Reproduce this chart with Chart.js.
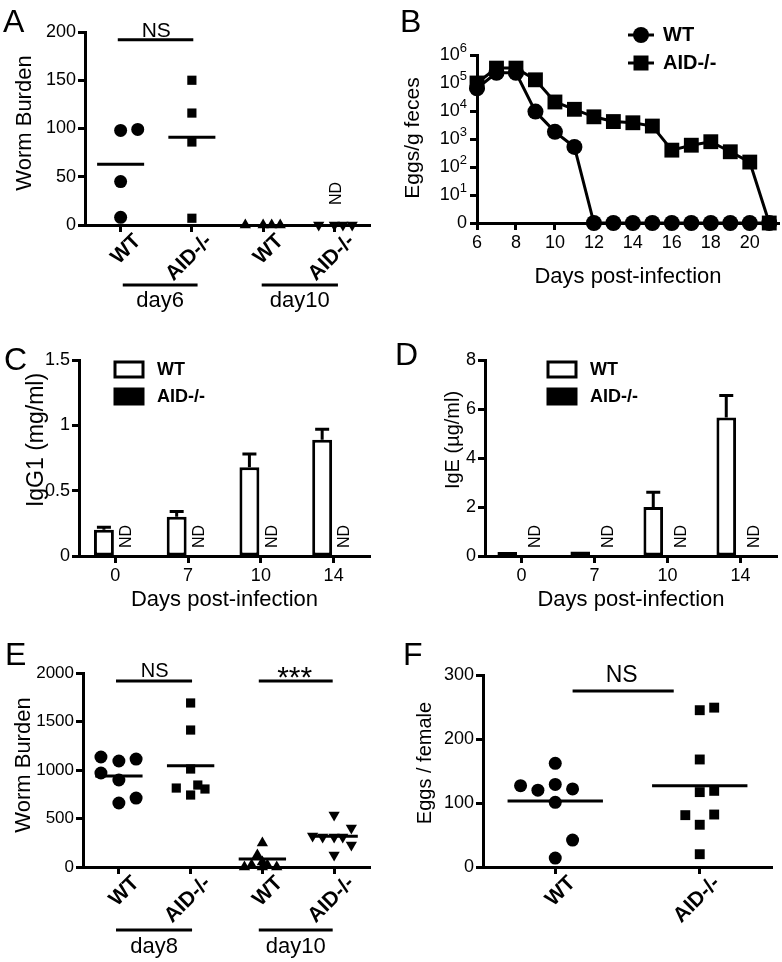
<!DOCTYPE html>
<html>
<head>
<meta charset="utf-8">
<title>Worm burden, egg output and antibody titres: WT vs AID-/-</title>
<script src="https://cdn.jsdelivr.net/npm/chart.js@4.4.1/dist/chart.umd.min.js"></script>
<style>
  html, body { margin: 0; padding: 0; background: #fff; }
  body { position: relative; width: 782px; height: 962px; overflow: hidden; }
  canvas { position: absolute; }
</style>
</head>
<body>
<canvas id="panelA"></canvas>
<canvas id="panelB"></canvas>
<canvas id="panelC"></canvas>
<canvas id="panelD"></canvas>
<canvas id="panelE"></canvas>
<canvas id="panelF"></canvas>
<script>
// ---- values ----
// dot plots: x is the group index, the small fractions are the jitter of each dot

// A: worm burden at day 6 / day 10
const groupsA = ["WT", "AID-/-", "WT", "AID-/-"];
const daysA = ["day6", "day10"];
const wtDay6A = [98, 99, 45, 8];
const wtDay6AX = [0, 0.24, 0, 0];
const aidDay6A = [150, 116, 86, 7];
const aidDay6AX = [1, 1, 1, 1];
const wtDay10A = [0, 0, 0, 0];
const wtDay10AX = [1.75, 2, 2.12, 2.24];
const aidDay10A = [0, 0, 0, 0];
const aidDay10AX = [2.78, 3, 3.12, 3.25];
const meansA = [63, 91];

// B: eggs / g feces (0 = none found)
const daysB = [6, 7, 8, 9, 10, 11, 12, 13, 14, 15, 16, 17, 18, 19, 20, 21];
const wtEggsB = [65000, 230000, 230000, 9500, 1800, 520, 0, 0, 0, 0, 0, 0, 0, 0, 0, 0];
const aidEggsB = [100000, 340000, 340000, 130000, 21000, 11500, 6200, 4200, 3800, 2900, 400, 600, 800, 350, 150, 0];
const dayTicksB = [6, 8, 10, 12, 14, 16, 18, 20];
const powersB = [0, 1, 2, 3, 4, 5, 6]; // y ticks: 0, then 10^1 .. 10^6

// C: IgG1 (mg/ml), D: IgE (ug/ml); AID-/- not detected (null)
const daysCD = ["0", "7", "10", "14"];
const wtIgG1 = [0.2, 0.3, 0.68, 0.89];
const wtIgG1Sem = [0.02, 0.04, 0.1, 0.08];
const aidIgG1 = [null, null, null, null];
const wtIgE = [0.05, 0.18, 2.0, 5.65];
const wtIgESem = [0, 0, 0.6, 0.9];
const aidIgE = [null, null, null, null];

// E: worm burden at day 8 / day 10
const groupsE = ["WT", "AID-/-", "WT", "AID-/-"];
const daysE = ["day8", "day10"];
const wtDay8E = [1134, 1093, 1113, 969, 897, 660, 711];
const wtDay8EX = [-0.25, 0, 0.24, -0.25, 0, 0, 0.24];
const aidDay8E = [1691, 1412, 1010, 814, 845, 804, 742];
const aidDay8EX = [1, 1, 1, 0.8, 1.1, 1.2, 1];
const wtDay10E = [247, 0, 20, 124, 52, 20, 0, 0];
const wtDay10EX = [2, 1.75, 1.85, 1.93, 2, 2.07, 2.2, 2];
const aidDay10E = [536, 402, 320, 309, 309, 309, 227, 124];
const aidDay10EX = [3, 3.24, 2.7, 2.84, 3, 3.12, 3.24, 3];
const meansE = [938, 1045, 82, 317];

// F: eggs per female
const groupsF = ["WT", "AID-/-"];
const wtEggsF = [162, 127, 120, 129, 122, 101, 42, 14];
const wtEggsFX = [0, -0.24, -0.12, 0, 0.12, 0, 0.12, 0];
const aidEggsF = [245, 249, 168, 117, 119, 81, 82, 66, 20];
const aidEggsFX = [1, 1.1, 1, 1, 1.1, 0.9, 1.1, 1, 1];
const meansF = [103, 127];

// ---- drawing ----
const FONT = '"Liberation Sans", Arial, Helvetica, sans-serif';
Chart.defaults.font.family = FONT;
Chart.defaults.color = "#000";
const MEAN_HALF = 0.33;

// canvas box, plot area and y title centre of each panel, in page pixels
const layoutA = { box: { x: 0, y: 0, w: 391, h: 320 }, area: { l: 85, t: 32, r: 370, b: 225 }, yTitle: { x: 25, y: 123 } };
const layoutB = { box: { x: 391, y: 0, w: 391, h: 320 }, area: { l: 477, t: 55, r: 779, b: 223 }, yTitle: { x: 413, y: 138 } };
const layoutC = { box: { x: 0, y: 320, w: 391, h: 305 }, area: { l: 79, t: 360, r: 370, b: 556 }, yTitle: { x: 37, y: 440 } };
const layoutD = { box: { x: 391, y: 320, w: 391, h: 305 }, area: { l: 485, t: 360, r: 777, b: 556 }, yTitle: { x: 453, y: 440 } };
const layoutE = { box: { x: 0, y: 625, w: 391, h: 337 }, area: { l: 83, t: 673, r: 370, b: 867 }, yTitle: { x: 24, y: 765 } };
const layoutF = { box: { x: 391, y: 625, w: 391, h: 337 }, area: { l: 483, t: 675, r: 772, b: 867 }, yTitle: { x: 425, y: 763 } };

function setup(id, lay) {
  const c = document.getElementById(id);
  c.width = lay.box.w;
  c.height = lay.box.h;
  c.style.left = lay.box.x + "px";
  c.style.top = lay.box.y + "px";
  return c;
}

function baseOptions(lay) {
  const { box, area } = lay;
  return {
    responsive: false,
    animation: false,
    devicePixelRatio: 1,
    events: [],
    layout: {
      autoPadding: false,
      padding: { left: 0, top: area.t - box.y, right: box.x + box.w - area.r, bottom: 0 },
    },
    plugins: { legend: { display: false }, tooltip: { enabled: false } },
  };
}

const axisGrid = { drawOnChartArea: false, tickLength: 7, tickWidth: 3, tickColor: "#000" };
const axisBorder = { color: "#000", width: 3 };

// keep the plot area exactly where the layout says
function fixWidth(w) {
  return (s) => { s.width = w; s.paddingTop = 0; s.paddingBottom = 0; };
}
function fixHeight(h) {
  return (s) => { s.height = h; s.paddingLeft = 0; s.paddingRight = 0; };
}

function yAxis(lay, o) {
  return {
    min: o.min,
    max: o.max,
    ticks: { stepSize: o.step, font: { size: o.tickSize || 18 }, color: "#000", padding: 2,
             display: o.hideLabels ? false : true, callback: (v) => String(v) },
    grid: axisGrid,
    border: axisBorder,
    afterFit: fixWidth(lay.area.l - lay.box.x),
  };
}

function xTitle(lay, text, size, centerY) {
  const lh = size * 1.2;
  return { display: true, text, color: "#000", font: { size },
           padding: { top: 0, bottom: lay.box.y + lay.box.h - centerY - lh / 2 } };
}

function dotAxis(lay, labels) {
  return {
    type: "linear",
    min: -0.5,
    max: labels.length - 0.5,
    afterBuildTicks: (s) => { s.ticks = labels.map((_, i) => ({ value: i })); },
    ticks: { callback: (v) => labels[v], autoSkip: false, minRotation: 45, maxRotation: 45,
             labelOffset: 17, padding: -3, font: { size: 21, weight: "bold" }, color: "#000" },
    grid: axisGrid,
    border: axisBorder,
    afterFit: fixHeight(lay.box.y + lay.box.h - lay.area.b),
  };
}

function dots(ys, xs, style, radius, rotation) {
  return {
    data: ys.map((v, i) => ({ x: xs[i], y: v })),
    showLine: false,
    pointStyle: style,
    pointRadius: radius,
    pointRotation: rotation || 0,
    pointBackgroundColor: "#000",
    pointBorderWidth: 0,
    clip: false,
  };
}

function meanLine(m, c) {
  return {
    data: [{ x: c - MEAN_HALF, y: m }, { x: c + MEAN_HALF, y: m }],
    showLine: true,
    borderColor: "#000",
    borderWidth: 3,
    pointRadius: 0,
    clip: false,
  };
}

function put(ctx, str, x, y, size, opts) {
  opts = opts || {};
  ctx.save();
  ctx.font = (opts.bold ? "bold " : "") + size + "px " + FONT;
  ctx.fillStyle = "#000";
  ctx.textAlign = opts.align || "center";
  ctx.textBaseline = opts.base || "middle";
  ctx.translate(x, y);
  if (opts.rot) ctx.rotate(opts.rot);
  ctx.fillText(str, 0, 0);
  ctx.restore();
}

function yTitle(ctx, lay, text, size) {
  put(ctx, text, lay.yTitle.x - lay.box.x, lay.yTitle.y - lay.box.y, size, { rot: -Math.PI / 2 });
}

function rule(ctx, x1, x2, y) {
  ctx.save();
  ctx.strokeStyle = "#000";
  ctx.lineWidth = 3;
  ctx.beginPath();
  ctx.moveTo(x1, y);
  ctx.lineTo(x2, y);
  ctx.stroke();
  ctx.restore();
}

function groupBrackets(ctx, x, names, spans, ruleY, textY) {
  names.forEach((name, i) => {
    const a = x.getPixelForValue(spans[i][0]);
    const b = x.getPixelForValue(spans[i][1]);
    rule(ctx, a, b, ruleY);
    put(ctx, name, (a + b) / 2, textY, 22);
  });
}

// A
new Chart(setup("panelA", layoutA), {
  type: "scatter",
  data: {
    datasets: [
      dots(wtDay6A, wtDay6AX, "circle", 6.5),
      dots(aidDay6A, aidDay6AX, "rect", 6.5),
      dots(wtDay10A, wtDay10AX, "triangle", 6.5),
      dots(aidDay10A, aidDay10AX, "triangle", 6.5, 180),
      meanLine(meansA[0], 0),
      meanLine(meansA[1], 1),
    ],
  },
  options: Object.assign(baseOptions(layoutA), {
    scales: {
      x: dotAxis(layoutA, groupsA),
      y: yAxis(layoutA, { min: 0, max: 200, step: 50 }),
    },
  }),
  plugins: [{
    id: "notesA",
    afterDraw(chart) {
      const { ctx, scales: { x, y }, chartArea: ca } = chart;
      put(ctx, "A", 3, 32, 32, { align: "left", base: "alphabetic" });
      yTitle(ctx, layoutA, "Worm Burden", 22);
      const ns = y.getPixelForValue(192);
      rule(ctx, x.getPixelForValue(-0.04), x.getPixelForValue(1.02), ns);
      put(ctx, "NS", x.getPixelForValue(0.5), ns - 3, 21, { base: "alphabetic" });
      put(ctx, "ND", x.getPixelForValue(3.03), ca.bottom - 20, 16, { align: "left", rot: -Math.PI / 2 });
      groupBrackets(ctx, x, daysA, [[0.03, 1.08], [1.98, 3.05]], ca.bottom + 60, ca.bottom + 76);
    },
  }],
});

// B: y is log10 of the count, 0 drawn at the 10^0 position
const toLog = (v) => (v > 0 ? Math.log10(v) : 0);
new Chart(setup("panelB", layoutB), {
  type: "line",
  data: {
    datasets: [
      { label: "WT", data: daysB.map((d, i) => ({ x: d, y: toLog(wtEggsB[i]) })),
        borderColor: "#000", borderWidth: 3, pointStyle: "circle", pointRadius: 8,
        pointBackgroundColor: "#000", pointBorderWidth: 0, order: 2, clip: false },
      { label: "AID-/-", data: daysB.map((d, i) => ({ x: d, y: toLog(aidEggsB[i]) })),
        borderColor: "#000", borderWidth: 3, pointStyle: "rect", pointRadius: 10.5,
        pointBackgroundColor: "#000", pointBorderWidth: 0, order: 1, clip: false },
    ],
  },
  options: Object.assign(baseOptions(layoutB), {
    scales: {
      x: {
        type: "linear", min: 6, max: 21.5,
        afterBuildTicks: (s) => { s.ticks = dayTicksB.map((v) => ({ value: v })); },
        ticks: { font: { size: 18 }, color: "#000", padding: 2, maxRotation: 0, autoSkip: false },
        grid: axisGrid, border: axisBorder,
        title: xTitle(layoutB, "Days post-infection", 22, 277),
        afterFit: fixHeight(layoutB.box.y + layoutB.box.h - layoutB.area.b),
      },
      y: Object.assign(yAxis(layoutB, { min: 0, max: 6, step: 1, hideLabels: true }), {
        afterBuildTicks: (s) => { s.ticks = powersB.map((p) => ({ value: p })); },
      }),
    },
  }),
  plugins: [{
    id: "notesB",
    afterDraw(chart) {
      const { ctx, scales: { y }, chartArea: ca } = chart;
      put(ctx, "B", 9, 32, 32, { align: "left", base: "alphabetic" });
      yTitle(ctx, layoutB, "Eggs/g feces", 21);
      // y tick labels: 0, 10^1 ... 10^6 with a raised exponent
      const right = ca.left - 10;
      powersB.forEach((p) => {
        const py = y.getPixelForValue(p);
        if (p === 0) { put(ctx, "0", right, py, 18, { align: "right" }); return; }
        put(ctx, String(p), right, py - 7, 13, { align: "right" });
        ctx.font = "13px " + FONT;
        const ew = ctx.measureText(String(p)).width;
        put(ctx, "10", right - ew, py, 18, { align: "right" });
      });
      chart.data.datasets.forEach((ds, i) => {
        const ly = 35 + i * 28;
        rule(ctx, 237, 263, ly);
        ctx.save();
        ctx.fillStyle = "#000";
        ctx.beginPath();
        if (ds.pointStyle === "circle") ctx.arc(250, ly, 8, 0, Math.PI * 2);
        else ctx.rect(242.5, ly - 7.5, 15, 15);
        ctx.fill();
        ctx.restore();
        put(ctx, ds.label, 272, ly, 20, { align: "left", bold: true });
      });
    },
  }],
});

// C and D share one builder
function titreChart(id, lay, letter, wt, sem, aid, yo, catPct, barPct, legendDx, titleY) {
  return new Chart(setup(id, lay), {
    type: "bar",
    data: {
      labels: daysCD,
      datasets: [
        { label: "WT", data: wt, backgroundColor: "#fff", borderColor: "#000", borderWidth: 3,
          borderSkipped: false, minBarLength: 4, categoryPercentage: catPct, barPercentage: barPct, clip: false },
        { label: "AID-/-", data: aid, backgroundColor: "#000", borderColor: "#000", borderWidth: 3,
          borderSkipped: false, categoryPercentage: catPct, barPercentage: barPct, clip: false },
      ],
    },
    options: Object.assign(baseOptions(lay), {
      scales: {
        x: {
          ticks: { font: { size: 18 }, color: "#000", padding: 2 },
          grid: Object.assign({ offset: false }, axisGrid), border: axisBorder,
          title: xTitle(lay, "Days post-infection", 22, titleY),
          afterFit: fixHeight(lay.box.y + lay.box.h - lay.area.b),
        },
        y: yAxis(lay, yo),
      },
    }),
    plugins: [{
      id: "notes" + letter,
      afterDatasetsDraw(chart) {
        const { ctx, scales: { y } } = chart;
        const bars = chart.getDatasetMeta(0).data;
        ctx.save();
        ctx.strokeStyle = "#000";
        ctx.lineWidth = 3;
        bars.forEach((bar, i) => {
          if (!sem[i]) return;
          const top = y.getPixelForValue(wt[i] + sem[i]);
          ctx.beginPath();
          ctx.moveTo(bar.x, bar.y);
          ctx.lineTo(bar.x, top);
          ctx.moveTo(bar.x - 7, top);
          ctx.lineTo(bar.x + 7, top);
          ctx.stroke();
        });
        ctx.restore();
      },
      afterDraw(chart) {
        const { ctx, chartArea: ca } = chart;
        put(ctx, letter, 4, letter === "C" ? 50 : 45, 32, { align: "left", base: "alphabetic" });
        yTitle(ctx, lay, yo.title, yo.titleSize);
        chart.getDatasetMeta(1).data.forEach((el) => {
          put(ctx, "ND", el.x, ca.bottom - 8, 16, { align: "left", rot: -Math.PI / 2 });
        });
        chart.data.datasets.forEach((ds, i) => {
          const top = ca.top + 2 + i * 27;
          ctx.save();
          ctx.fillStyle = ds.backgroundColor;
          ctx.strokeStyle = "#000";
          ctx.lineWidth = 3;
          ctx.fillRect(ca.left + legendDx, top, 28, 15);
          ctx.strokeRect(ca.left + legendDx, top, 28, 15);
          ctx.restore();
          put(ctx, ds.label, ca.left + legendDx + 42, top + 8, 18, { align: "left", bold: true });
        });
      },
    }],
  });
}

titreChart("panelC", layoutC, "C", wtIgG1, wtIgG1Sem, aidIgG1,
  { min: 0, max: 1.5, step: 0.5, title: "IgG1 (mg/ml)", titleSize: 23 }, 0.63, 0.87, 36, 600);
titreChart("panelD", layoutD, "D", wtIgE, wtIgESem, aidIgE,
  { min: 0, max: 8, step: 2, title: "IgE (µg/ml)", titleSize: 20 }, 0.78, 0.69, 63, 600);

// E
new Chart(setup("panelE", layoutE), {
  type: "scatter",
  data: {
    datasets: [
      dots(wtDay8E, wtDay8EX, "circle", 6.5),
      dots(aidDay8E, aidDay8EX, "rect", 6.5),
      dots(wtDay10E, wtDay10EX, "triangle", 6.5),
      dots(aidDay10E, aidDay10EX, "triangle", 6.5, 180),
      meanLine(meansE[0], 0),
      meanLine(meansE[1], 1),
      meanLine(meansE[2], 2),
      meanLine(meansE[3], 3),
    ],
  },
  options: Object.assign(baseOptions(layoutE), {
    scales: {
      x: dotAxis(layoutE, groupsE),
      y: yAxis(layoutE, { min: 0, max: 2000, step: 500, tickSize: 17 }),
    },
  }),
  plugins: [{
    id: "notesE",
    afterDraw(chart) {
      const { ctx, scales: { x, y }, chartArea: ca } = chart;
      put(ctx, "E", 5, 40, 32, { align: "left", base: "alphabetic" });
      yTitle(ctx, layoutE, "Worm Burden", 22);
      const sig = y.getPixelForValue(1918);
      rule(ctx, x.getPixelForValue(-0.04), x.getPixelForValue(1.02), sig);
      put(ctx, "NS", x.getPixelForValue(0.5), sig - 4, 20, { base: "alphabetic" });
      rule(ctx, x.getPixelForValue(1.95), x.getPixelForValue(2.98), sig);
      put(ctx, "***", x.getPixelForValue(2.45), sig + 6, 30, { base: "alphabetic" });
      groupBrackets(ctx, x, daysE, [[-0.04, 1.02], [1.95, 2.98]], ca.bottom + 63, ca.bottom + 80);
    },
  }],
});

// F
new Chart(setup("panelF", layoutF), {
  type: "scatter",
  data: {
    datasets: [
      dots(wtEggsF, wtEggsFX, "circle", 6.5),
      dots(aidEggsF, aidEggsFX, "rect", 7),
      meanLine(meansF[0], 0),
      meanLine(meansF[1], 1),
    ],
  },
  options: Object.assign(baseOptions(layoutF), {
    scales: {
      x: dotAxis(layoutF, groupsF),
      y: yAxis(layoutF, { min: 0, max: 300, step: 100 }),
    },
  }),
  plugins: [{
    id: "notesF",
    afterDraw(chart) {
      const { ctx, scales: { x, y } } = chart;
      put(ctx, "F", 12, 40, 32, { align: "left", base: "alphabetic" });
      yTitle(ctx, layoutF, "Eggs / female", 20);
      const ns = y.getPixelForValue(275);
      rule(ctx, x.getPixelForValue(0.12), x.getPixelForValue(0.82), ns);
      put(ctx, "NS", x.getPixelForValue(0.46), ns - 9, 23, { base: "alphabetic" });
    },
  }],
});
</script>
</body>
</html>
